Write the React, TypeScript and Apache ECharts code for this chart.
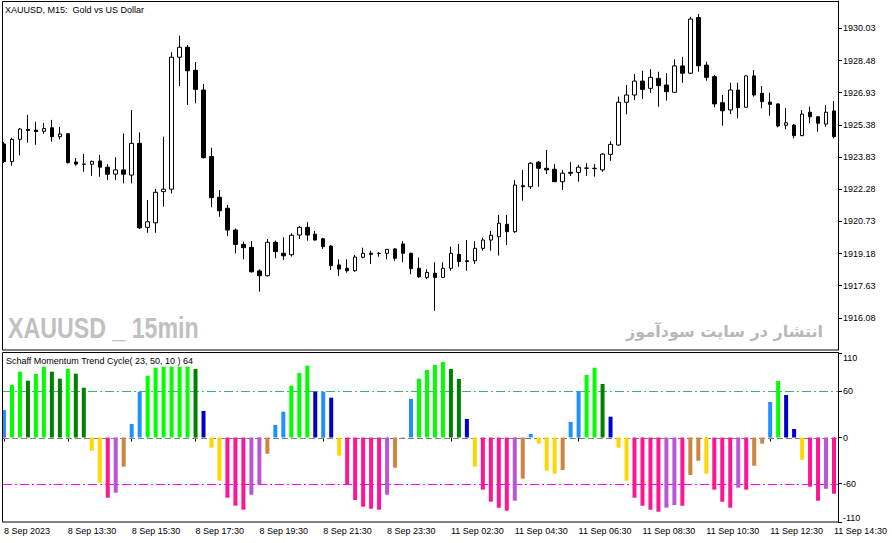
import React, { useEffect, useRef } from "react";
import * as echarts from "echarts";

// ---- time categories (15-min bars, weekend gap after Fri 23:45) ----
function buildTimes(): string[] {
  const out: string[] = [];
  const pad = (n: number) => (n < 10 ? "0" + n : "" + n);
  let m = 11 * 60 + 30;
  for (let i = 0; i < 50; i++) { out.push(`8 Sep ${pad(Math.floor(m / 60))}:${pad(m % 60)}`); m += 15; }
  m = 60;
  for (let i = 0; i < 55; i++) { out.push(`11 Sep ${pad(Math.floor(m / 60))}:${pad(m % 60)}`); m += 15; }
  return out;
}
const categories = buildTimes();

const xTickIndex = [0, 8, 16, 24, 32, 40, 48, 56, 64, 72, 80, 88, 96, 104];
const xTickLabel = [
  "8 Sep 2023", "8 Sep 13:30", "8 Sep 15:30", "8 Sep 17:30", "8 Sep 19:30", "8 Sep 21:30", "8 Sep 23:30",
  "11 Sep 02:30", "11 Sep 04:30", "11 Sep 06:30", "11 Sep 08:30", "11 Sep 10:30", "11 Sep 12:30", "11 Sep 14:30",
];
const priceTicks = [1916.08, 1917.63, 1919.18, 1920.73, 1922.28, 1923.83, 1925.38, 1926.93, 1928.48, 1930.03];
const stcTicks = [-110, -60, 0, 60, 110];
const stcLevels = [60, 0, -60];
const levelColors = ["#3CB371", "#808080", "#FF00FF"];

const open = [
  1924.46, 1923.61, 1924.68, 1925.16, 1925.13, 1925.07, 1925.24, 1924.81, 1924.95, 1923.59,
  1923.49, 1923.48, 1923.64, 1923.34, 1923.01, 1923.21, 1922.96, 1924.49, 1920.44, 1920.66,
  1922.16, 1922.28, 1928.64, 1929.12, 1928.01, 1927.06, 1923.85, 1921.89, 1921.36, 1920.31,
  1919.62, 1919.48, 1918.34, 1918.11, 1919.72, 1919.19, 1919.12, 1920.07, 1920.44, 1920.11,
  1919.89, 1919.54, 1918.63, 1918.47, 1918.35, 1919.00, 1919.19, 1919.19, 1919.19, 1919.40,
  1919.64, 1919.19, 1918.47, 1918.03, 1918.23, 1918.03, 1918.47, 1919.14, 1918.83, 1918.83,
  1919.43, 1919.83, 1919.99, 1920.59, 1920.23, 1922.45, 1922.40, 1923.58, 1923.29, 1923.24,
  1922.64, 1923.09, 1923.09, 1923.29, 1923.27, 1923.21, 1923.96, 1924.41, 1926.47, 1926.82,
  1927.49, 1927.14, 1927.62, 1927.30, 1926.95, 1928.22, 1927.87, 1930.55, 1928.26, 1927.70,
  1926.45, 1926.10, 1927.06, 1926.23, 1927.74, 1926.90, 1926.48, 1926.39, 1925.36, 1925.37,
  1924.86, 1925.99, 1925.77, 1925.42, 1926.05,
];
const close = [
  1923.61, 1924.68, 1925.18, 1925.11, 1925.06, 1925.20, 1924.81, 1924.94, 1923.56, 1923.49,
  1923.48, 1923.62, 1923.34, 1923.00, 1923.21, 1923.00, 1924.49, 1920.42, 1920.71, 1922.13,
  1922.28, 1928.64, 1929.12, 1927.99, 1927.09, 1923.80, 1921.87, 1921.24, 1920.31, 1919.62,
  1919.46, 1918.30, 1918.11, 1919.72, 1919.27, 1919.07, 1920.06, 1920.44, 1920.07, 1919.83,
  1919.51, 1918.59, 1918.43, 1918.35, 1919.01, 1919.19, 1919.14, 1919.18, 1919.38, 1918.95,
  1919.19, 1918.45, 1918.06, 1918.27, 1918.03, 1918.47, 1919.19, 1918.79, 1918.79, 1919.43,
  1919.83, 1920.06, 1920.64, 1920.23, 1922.48, 1922.40, 1923.53, 1923.29, 1923.21, 1922.64,
  1923.05, 1923.05, 1923.34, 1923.30, 1923.29, 1923.97, 1924.44, 1926.47, 1926.82, 1927.49,
  1927.09, 1927.67, 1927.27, 1926.98, 1928.22, 1927.87, 1930.48, 1928.23, 1927.67, 1926.39,
  1926.06, 1927.06, 1926.21, 1927.74, 1926.82, 1926.50, 1926.37, 1925.33, 1925.48, 1924.86,
  1925.90, 1925.77, 1925.46, 1925.99, 1924.81,
];
const low = [
  1923.54, 1923.41, 1923.91, 1924.52, 1924.42, 1924.95, 1924.57, 1924.68, 1923.52, 1923.41,
  1923.12, 1922.92, 1922.88, 1922.72, 1922.72, 1922.56, 1922.56, 1920.36, 1920.18, 1920.18,
  1921.44, 1922.08, 1927.25, 1926.34, 1926.42, 1923.76, 1921.41, 1920.95, 1920.02, 1919.19,
  1918.90, 1918.26, 1917.34, 1918.07, 1918.95, 1918.87, 1919.03, 1919.88, 1919.80, 1919.80,
  1919.40, 1918.39, 1918.10, 1918.26, 1918.30, 1918.95, 1918.68, 1919.03, 1918.90, 1918.83,
  1918.76, 1918.18, 1918.01, 1917.94, 1916.42, 1918.02, 1918.35, 1918.54, 1918.35, 1918.68,
  1919.32, 1919.32, 1919.08, 1919.59, 1920.18, 1921.73, 1922.29, 1922.40, 1923.01, 1922.63,
  1922.24, 1922.92, 1922.64, 1922.92, 1922.89, 1923.12, 1923.65, 1924.38, 1925.89, 1926.58,
  1926.63, 1926.93, 1926.26, 1926.55, 1926.94, 1927.41, 1927.83, 1927.94, 1927.51, 1926.23,
  1925.34, 1925.90, 1925.70, 1926.22, 1926.74, 1926.18, 1925.82, 1925.26, 1925.17, 1924.73,
  1924.84, 1925.46, 1925.05, 1925.29, 1924.73,
];
const high = [
  1924.55, 1924.76, 1925.23, 1925.86, 1925.53, 1925.47, 1925.62, 1925.28, 1924.99, 1923.78,
  1923.98, 1923.66, 1923.93, 1923.49, 1923.82, 1924.97, 1926.10, 1925.02, 1921.76, 1922.29,
  1924.81, 1928.88, 1929.68, 1929.23, 1928.41, 1927.35, 1924.28, 1922.24, 1921.52, 1920.39,
  1919.75, 1919.78, 1918.42, 1919.88, 1919.80, 1919.96, 1920.16, 1920.51, 1920.69, 1920.27,
  1919.94, 1919.59, 1918.90, 1918.90, 1919.11, 1919.46, 1919.30, 1919.25, 1919.40, 1919.43,
  1919.78, 1919.22, 1918.99, 1918.42, 1918.76, 1918.76, 1919.51, 1919.64, 1919.83, 1919.78,
  1919.94, 1920.27, 1921.04, 1921.04, 1922.72, 1923.21, 1923.58, 1923.64, 1924.17, 1923.49,
  1923.21, 1923.58, 1923.45, 1923.53, 1923.49, 1924.02, 1924.59, 1926.74, 1927.30, 1927.83,
  1927.99, 1928.06, 1927.94, 1927.87, 1928.54, 1928.66, 1930.59, 1930.72, 1928.42, 1927.78,
  1926.82, 1927.41, 1927.41, 1927.78, 1928.02, 1927.25, 1926.93, 1926.42, 1926.19, 1925.42,
  1926.10, 1926.26, 1925.81, 1926.34, 1926.53,
];

// Schaff Momentum Trend Cycle histogram
const stc = [
  35.8, 68.4, 85.7, 74.0, 82.7, 92.2, 85.7, 76.6, 89.2, 83.1,
  64.8, -17.2, -58.8, -78.4, -71.9, -38.0, 17.6, 59.2, 80.5, 90.9,
  92.2, 92.2, 92.2, 92.2, 89.2, 34.5, -13.3, -56.2, -78.4, -88.8,
  -94.0, -74.5, -61.0, -21.1, 16.3, 33.6, 67.4, 84.0, 93.5, 59.6,
  59.6, 51.8, -23.7, -61.8, -81.4, -90.1, -92.7, -94.0, -74.5, -39.3,
  -1.0, 50.1, 76.6, 87.9, 94.4, 98.3, 89.2, 76.2, 24.1, -38.0,
  -67.9, -83.6, -91.4, -95.3, -82.3, -53.6, 4.6, -8.0, -43.2, -47.1,
  -42.3, 20.2, 60.5, 81.4, 90.9, 69.7, 27.1, -13.3, -56.2, -78.4,
  -88.8, -94.0, -96.6, -91.4, -87.9, -88.8, -48.8, -30.2, -47.1, -67.9,
  -83.6, -91.4, -65.3, -67.9, -36.7, -8.0, 46.2, 73.6, 55.3, 11.1,
  -28.9, -64.0, -82.3, -66.7, -73.2,
];
const stcState = [
  "B", "L", "L", "G", "L", "L", "G", "G", "L", "G",
  "G", "Y", "Y", "P", "O", "R", "B", "B", "L", "L",
  "L", "L", "L", "L", "G", "N", "Y", "Y", "P", "P",
  "P", "O", "O", "R", "B", "B", "L", "L", "L", "N",
  "B", "N", "Y", "P", "P", "P", "P", "P", "O", "R",
  "R", "B", "L", "L", "L", "L", "G", "G", "N", "Y",
  "P", "P", "P", "P", "O", "R", "B", "Y", "Y", "Y",
  "R", "B", "B", "L", "L", "G", "N", "Y", "Y", "P",
  "P", "P", "P", "O", "O", "P", "R", "R", "Y", "P",
  "P", "P", "O", "P", "R", "R", "B", "L", "N", "N",
  "Y", "P", "P", "O", "P",
];
const palette: Record<string, string> = {
  L: "#00FF00", G: "#008000", B: "#1E90FF", N: "#0000CD",
  Y: "#FFD700", P: "#FF1493", O: "#BA55D3", R: "#CD853F",
};

const FONT = "'Liberation Sans', Arial, sans-serif";

export default function App() {
  const ref = useRef<HTMLDivElement>(null);
  useEffect(() => {
    if (!ref.current) return;
    const chart = echarts.init(ref.current, undefined, { renderer: "svg" });
    const tickSet = new Map<number, string>();
    xTickIndex.forEach((idx, k) => tickSet.set(idx, xTickLabel[k]));

    const staticGraphics: any[] = [
      {
        id: "wm1", type: "text", x: 8, y: 328, scaleX: 0.8, z: 0, silent: true,
        style: { text: "XAUUSD _ 15min", fill: "#c0c0c0", fontSize: 29, fontWeight: "bold", fontFamily: FONT, align: "left", verticalAlign: "middle" },
      },
      {
        id: "wm2", type: "text", x: 823, y: 331, z: 0, silent: true,
        style: { text: "انتشار در سایت سودآموز", fill: "#b8b8b8", fontSize: 16, fontWeight: "bold", fontFamily: "'DejaVu Sans', sans-serif", align: "right", verticalAlign: "middle" },
      },
      { id: "mask", type: "rect", z: 50, silent: true, shape: { x: -4, y: 0, width: 6, height: 523 }, style: { fill: "#ffffff" } },
      { id: "f1", type: "rect", z: 51, silent: true, shape: { x: 2.5, y: 1.5, width: 836, height: 348.5 }, style: { fill: "none", stroke: "#000", lineWidth: 1 } },
      { id: "f2", type: "rect", z: 51, silent: true, shape: { x: 2.5, y: 352.5, width: 836, height: 169.5 }, style: { fill: "none", stroke: "#000", lineWidth: 1 } },
      {
        id: "t1", type: "text", x: 5, y: 10, z: 52, silent: true,
        style: { text: "XAUUSD, M15:  Gold vs US Dollar", fill: "#000", fontSize: 9, fontFamily: FONT, align: "left", verticalAlign: "middle" },
      },
      {
        id: "t2", type: "text", x: 6, y: 361, z: 52, silent: true,
        style: { text: "Schaff Momentum Trend Cycle( 23, 50, 10 ) 64", fill: "#000", fontSize: 9, fontFamily: FONT, align: "left", verticalAlign: "middle" },
      },
    ];

    const option: any = {
      animation: false,
      backgroundColor: "#ffffff",
      grid: [
        { left: -2, width: 840, top: 1, height: 349 },
        { left: -2, width: 840, top: 353, height: 169 },
      ],
      xAxis: [
        {
          type: "category", gridIndex: 0, data: categories, boundaryGap: true,
          axisLine: { show: false }, axisTick: { show: false }, axisLabel: { show: false }, splitLine: { show: false },
        },
        {
          type: "category", gridIndex: 1, data: categories, boundaryGap: true,
          axisLine: { show: false },
          axisTick: { show: true, alignWithLabel: true, length: 4, lineStyle: { color: "#000", width: 1 } },
          axisLabel: {
            interval: (index: number) => tickSet.has(index),
            formatter: (_v: string, index: number) => tickSet.get(index) || "",
            align: "left", margin: 4, fontSize: 9, color: "#000", fontFamily: FONT,
          },
          splitLine: { show: false },
        },
      ],
      yAxis: [
        {
          type: "value", gridIndex: 0, position: "right", min: 1914.53, max: 1931.35, scale: true,
          axisLine: { show: true, lineStyle: { color: "#000", width: 1 } },
          axisTick: { show: true, length: 4, customValues: priceTicks, lineStyle: { color: "#000" } },
          axisLabel: {
            customValues: priceTicks, formatter: (v: number) => v.toFixed(2),
            margin: 5, fontSize: 9, color: "#000", fontFamily: FONT,
          },
          splitLine: { show: false },
        },
        {
          type: "value", gridIndex: 1, position: "right", min: -110, max: 110,
          axisLine: { show: true, lineStyle: { color: "#000", width: 1 } },
          axisTick: { show: true, length: 4, customValues: stcTicks, lineStyle: { color: "#000" } },
          axisLabel: {
            customValues: stcTicks, margin: 5, fontSize: 9, color: "#000", fontFamily: FONT,
            verticalAlignMaxLabel: "top", verticalAlignMinLabel: "bottom",
          },
          splitLine: { show: false },
        },
      ],
      series: [
        {
          type: "candlestick", xAxisIndex: 0, yAxisIndex: 0, barWidth: 4, clip: true, z: 3,
          data: open.map((o, i) => [o, close[i], low[i], high[i]]),
          itemStyle: { color: "#ffffff", color0: "#000000", borderColor: "#000000", borderColor0: "#000000", borderWidth: 1 },
        },
        {
          type: "bar", xAxisIndex: 1, yAxisIndex: 1, barWidth: 4, z: 3, clip: true,
          data: stc.map((v, i) => ({ value: v, itemStyle: { color: palette[stcState[i]] } })),
        },
      ],
      graphic: staticGraphics,
    };
    chart.setOption(option);

    // indicator level lines, placed through the indicator's own y scale
    const levelLines = stcLevels.map((lv, k) => {
      const py = chart.convertToPixel({ yAxisIndex: 1 } as any, lv) as number;
      const y = Math.round(py) + 0.5;
      return {
        id: "lv" + k, type: "line", z: 1, silent: true,
        shape: { x1: 3, y1: y, x2: 838, y2: y },
        style: { stroke: levelColors[k], lineWidth: 1, lineDash: lv === 0 ? [6, 3] : [9, 3, 2, 3] },
      };
    });
    chart.setOption({ graphic: [...staticGraphics, ...levelLines] });
    return () => chart.dispose();
  }, []);
  return <div ref={ref} style={{ position: "absolute", left: 0, top: 0, width: 892, height: 543 }} />;
}
